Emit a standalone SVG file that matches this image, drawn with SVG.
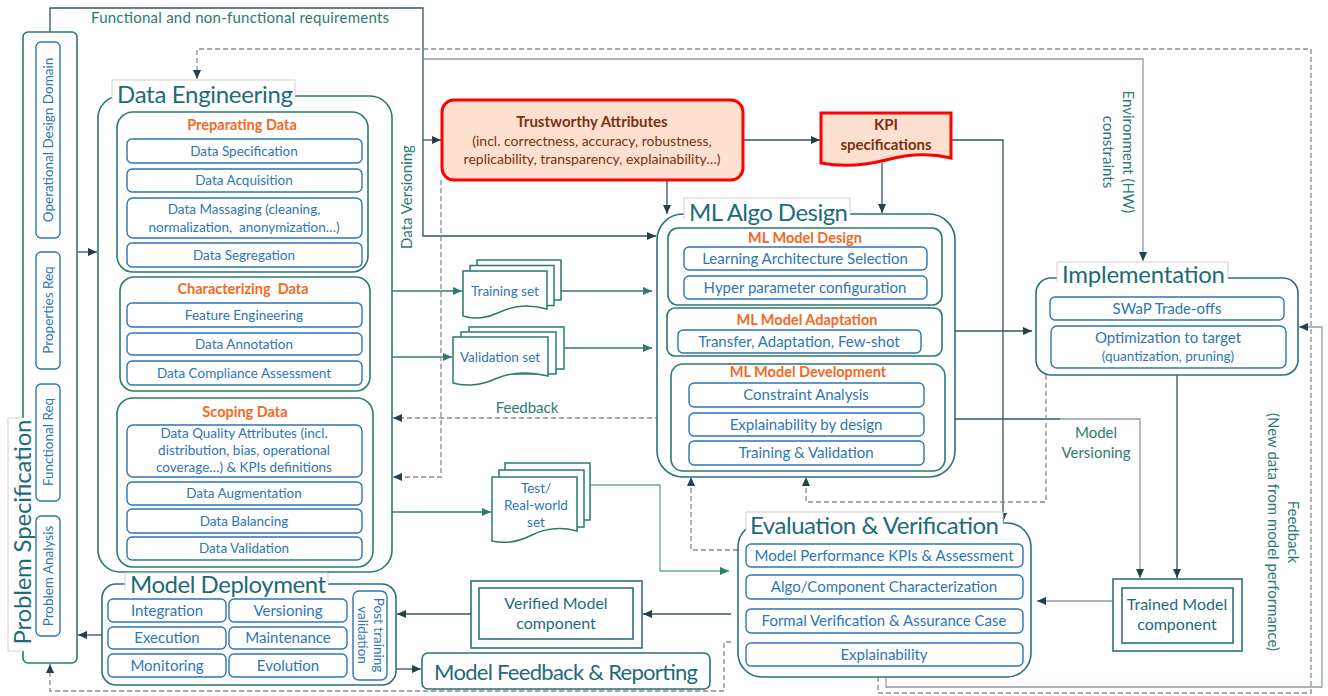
<svg xmlns="http://www.w3.org/2000/svg" width="1328" height="696" viewBox="0 0 1328 696">
<style>
text{font-family:Lato,"Liberation Sans",sans-serif}
.box{fill:#fff;stroke:#2b7a6f;stroke-width:1.6}
.boxb{fill:#fff;stroke:#2d6f7d;stroke-width:1.6}
.item{fill:#fff;stroke:#2e75b6;stroke-width:1.4}
.it{fill:#2e75b6;font-size:13.5px;text-anchor:middle}
.it2{fill:#2e75b6;font-size:15px;text-anchor:middle}
.hd{font-weight:bold;fill:#f5681e;font-size:14.5px;text-anchor:middle}
.title{fill:#1e6b78;font-size:24px}
.lab{fill:#2b7a6f;font-size:15px}
.lbl{fill:#fff;stroke:none}
.lblo{fill:none;stroke:#cfcfcf;stroke-width:1}
.c{fill:none;stroke:#37535e;stroke-width:1.3}
.cg{stroke:#2e7d6e}
.cl{stroke:#6fa6a0}
.cgr{stroke:#8d9fa3}
.d{stroke:#8a8a8a;stroke-dasharray:5 3}
.doc{fill:#fff;stroke:#2b7a6f;stroke-width:1.5}
.red{fill:#fde0cf;stroke:#ff0000;stroke-width:3}
.br{fill:#7b3010;text-anchor:middle}
.tm{fill:#1e6b78;font-size:16px;text-anchor:middle}
</style>
<defs>
<marker id="a" viewBox="0 0 10 10" refX="10" refY="5" markerWidth="9" markerHeight="9" markerUnits="userSpaceOnUse" orient="auto"><path d="M0,0.5 L10,5 L0,9.5 Z" fill="#24404a"/></marker>
<marker id="ag" viewBox="0 0 10 10" refX="10" refY="5" markerWidth="9" markerHeight="9" markerUnits="userSpaceOnUse" orient="auto"><path d="M0,0.5 L10,5 L0,9.5 Z" fill="#2e7d6e"/></marker>
</defs>

<g id="connectors">
<path class="c" d="M50,32 V8 H423 V236 H656" marker-end="url(#a)"/>
<path class="c" d="M423,140 H441" marker-end="url(#a)"/>
<path class="c cgr" d="M423,59 H1143 V261" marker-end="url(#a)"/>
<path class="c" d="M77,252 H97" marker-end="url(#a)"/>
<path class="c cg" d="M392,291 H462" marker-end="url(#ag)"/>
<path class="c cg" d="M561,291 H652" marker-end="url(#ag)"/>
<path class="c cg" d="M392,357 H452" marker-end="url(#ag)"/>
<path class="c cg" d="M564,348 H652" marker-end="url(#ag)"/>
<path class="c cg" d="M392,512 H491" marker-end="url(#ag)"/>
<path class="c cl" d="M590,485 H660 V571 H729" marker-end="url(#ag)"/>
<path class="c" d="M743,140 H820" marker-end="url(#a)"/>
<path class="c" d="M667,180 V214" marker-end="url(#a)"/>
<path class="c" d="M882,163 V213" marker-end="url(#a)"/>
<path class="c" d="M951,140 H1003 V522" marker-end="url(#a)"/>
<path class="c" d="M955,331 H1032" marker-end="url(#a)"/>
<path class="c" d="M945,419 H1060" />
<path class="c cgr" d="M1060,419 H1140 V578" marker-end="url(#a)"/>
<path class="c" d="M1177,375 V578" marker-end="url(#a)"/>
<path class="c cgr" d="M1113,601 H1037" marker-end="url(#a)"/>
<path class="c" d="M731,614 H643" marker-end="url(#a)"/>
<path class="c" d="M471,614 H397" marker-end="url(#a)"/>
<path class="c" d="M102,635 H78" marker-end="url(#a)"/>
<path class="c" d="M396,669 H421" marker-end="url(#a)"/>
<path class="c cgr" d="M886,677 V687 H1322 V327 H1299" marker-end="url(#a)"/>
<path class="c d" d="M660,418 H393" marker-end="url(#a)"/>
<path class="c d" d="M441,180 V477 H393" marker-end="url(#a)"/>
<path class="c d" d="M878,677 V693 H1311 V49 H197 V79" marker-end="url(#a)"/>
<path class="c d" d="M738,550 H691 V477" marker-end="url(#a)"/>
<path class="c d" d="M1046,375 V502 H806 V477" marker-end="url(#a)"/>
<path class="c d" d="M731,642 H724 V691 H50 V664" marker-end="url(#a)"/>
<text class="lab" x="91" y="23" textLength="298">Functional and non-functional requirements</text>
<text class="lab" x="527" y="413" text-anchor="middle">Feedback</text>
<text class="lab" x="1096" y="438" text-anchor="middle">Model</text>
<text class="lab" x="1096" y="458" text-anchor="middle">Versioning</text>
<text class="lab" transform="translate(412,197) rotate(-90)" text-anchor="middle">Data Versioning</text>
<g transform="translate(1118,152) rotate(90)" class="lab" text-anchor="middle"><text x="0" y="-5">Environment (HW)</text><text x="0" y="15">constraints</text></g>
<g transform="translate(1283,532) rotate(90)" class="lab" text-anchor="middle"><text x="0" y="-5">Feedback</text><text x="0" y="15">(New data from model performance)</text></g>
</g>

<g id="problem-specification">
<rect class="box" x="23" y="32" width="54" height="631" rx="5"/>
<rect class="lbl" x="8" y="418" width="26" height="233"/>
<path class="lblo" d="M23,418 H8 V651 H23"/>
<text class="title" transform="translate(31,532) rotate(-90)" text-anchor="middle" textLength="225">Problem Specification</text>
<rect class="item" x="36" y="42" width="24" height="196" rx="5"/>
<text class="it" transform="translate(53,140) rotate(-90)">Operational Design Domain</text>
<rect class="item" x="36" y="252" width="24" height="117" rx="5"/>
<text class="it" transform="translate(53,310) rotate(-90)">Properties Req</text>
<rect class="item" x="36" y="384" width="24" height="117" rx="5"/>
<text class="it" transform="translate(53,442) rotate(-90)">Functional Req</text>
<rect class="item" x="36" y="516" width="24" height="120" rx="5"/>
<text class="it" transform="translate(53,576) rotate(-90)">Problem Analysis</text>
</g>

<g id="data-engineering">
<rect class="box" x="98" y="96" width="294" height="476" rx="22"/>
<rect class="lbl" x="112" y="80" width="183" height="22"/>
<path class="lblo" d="M112,101 V80 H295 V96"/>
<text class="title" x="117" y="103" textLength="176">Data Engineering</text>
<rect class="box" x="117" y="112" width="251" height="160" rx="16"/>
<text class="hd" x="242" y="130">Preparating Data</text>
<rect class="item" x="127" y="139" width="235" height="24" rx="5"/>
<text class="it" x="244" y="156">Data Specification</text>
<rect class="item" x="127" y="169" width="235" height="23" rx="5"/>
<text class="it" x="244" y="185">Data Acquisition</text>
<rect class="item" x="127" y="198" width="235" height="40" rx="6"/>
<text class="it" x="244" y="214">Data Massaging (cleaning,</text>
<text class="it" x="244" y="232" style="white-space:pre">normalization,  anonymization…)</text>
<rect class="item" x="127" y="243" width="235" height="24" rx="5"/>
<text class="it" x="244" y="260">Data Segregation</text>
<rect class="box" x="120" y="277" width="250" height="114" rx="14"/>
<text class="hd" x="243" y="294" style="white-space:pre">Characterizing  Data</text>
<rect class="item" x="127" y="303" width="235" height="24" rx="5"/>
<text class="it" x="244" y="320">Feature Engineering</text>
<rect class="item" x="127" y="333" width="235" height="22" rx="5"/>
<text class="it" x="244" y="349">Data Annotation</text>
<rect class="item" x="127" y="361" width="235" height="24" rx="5"/>
<text class="it" x="244" y="378">Data Compliance Assessment</text>
<rect class="box" x="117" y="398" width="256" height="169" rx="16"/>
<text class="hd" x="245" y="417">Scoping Data</text>
<rect class="item" x="127" y="425" width="235" height="52" rx="6"/>
<text class="it" x="244" y="438">Data Quality Attributes (incl.</text>
<text class="it" x="244" y="455">distribution, bias, operational</text>
<text class="it" x="244" y="472">coverage…) &amp; KPIs definitions</text>
<rect class="item" x="127" y="482" width="235" height="23" rx="5"/>
<text class="it" x="244" y="498">Data Augmentation</text>
<rect class="item" x="127" y="509" width="235" height="24" rx="5"/>
<text class="it" x="244" y="526">Data Balancing</text>
<rect class="item" x="127" y="537" width="235" height="23" rx="5"/>
<text class="it" x="244" y="553">Data Validation</text>
</g>

<g id="training-set">
<rect class="doc" x="477" y="260" width="84" height="40"/>
<rect class="doc" x="470" y="265.5" width="84" height="40"/>
<path class="doc" d="M463,271 H547 V309 C528,304 512,306 500,312 C488,318 474,320 463,316 Z"/>
<text class="it" x="505" y="296">Training set</text>
</g>
<g id="validation-set">
<rect class="doc" x="469" y="327" width="95" height="42"/>
<rect class="doc" x="461" y="332" width="95" height="42"/>
<path class="doc" d="M453,337 H548 V376 C527,371 508,373 495,379 C482,385 466,387 453,383 Z"/>
<text class="it" x="500" y="362">Validation set</text>
</g>
<g id="test-set">
<rect class="doc" x="505" y="463" width="85" height="57"/>
<rect class="doc" x="499" y="470" width="85" height="57"/>
<path class="doc" d="M492,477 H577 V531 C558,526 544,529 532,535 C520,541 505,544 492,541 Z"/>
<text class="it" x="536" y="493">Test/</text>
<text class="it" x="536" y="510">Real-world</text>
<text class="it" x="536" y="527">set</text>
</g>

<g id="trustworthy-attributes">
<rect class="red" x="442" y="100" width="301" height="80" rx="12"/>
<text class="br" x="592" y="127" font-size="15" font-weight="bold">Trustworthy Attributes</text>
<text class="br" x="592" y="146" font-size="14">(incl. correctness, accuracy, robustness,</text>
<text class="br" x="592" y="164" font-size="14">replicability, transparency, explainability…)</text>
</g>

<g id="kpi-specifications">
<path class="red" d="M821,113 H951 V158 C930,153 908,154 886,160 C862,166 842,167 821,163 Z"/>
<text class="br" x="886" y="130" font-size="15" font-weight="bold">KPI</text>
<text class="br" x="886" y="150" font-size="15" font-weight="bold">specifications</text>
</g>

<g id="ml-algo-design">
<rect class="boxb" x="657" y="214" width="298" height="263" rx="26"/>
<rect class="lbl" x="684" y="198" width="166" height="22"/>
<path class="lblo" d="M684,219 V198 H850 V214"/>
<text class="title" x="689" y="221" textLength="159">ML Algo Design</text>
<rect class="box" x="668" y="228" width="274" height="77" rx="10"/>
<text class="hd" x="805" y="243">ML Model Design</text>
<rect class="item" x="684" y="247" width="243" height="23" rx="5"/>
<text class="it2" x="805" y="264">Learning Architecture Selection</text>
<rect class="item" x="684" y="276" width="243" height="23" rx="5"/>
<text class="it2" x="805" y="293">Hyper parameter configuration</text>
<rect class="box" x="667" y="308" width="275" height="48" rx="8"/>
<text class="hd" x="807" y="325">ML Model Adaptation</text>
<rect class="item" x="678" y="330" width="243" height="23" rx="5"/>
<text class="it2" x="799" y="347">Transfer, Adaptation, Few-shot</text>
<rect class="box" x="671" y="364" width="274" height="107" rx="12"/>
<text class="hd" x="808" y="377">ML Model Development</text>
<rect class="item" x="689" y="383" width="235" height="24" rx="5"/>
<text class="it2" x="806" y="400">Constraint Analysis</text>
<rect class="item" x="689" y="413" width="235" height="23" rx="5"/>
<text class="it2" x="806" y="430">Explainability by design</text>
<rect class="item" x="689" y="441" width="235" height="24" rx="5"/>
<text class="it2" x="806" y="458">Training &amp; Validation</text>
</g>

<g id="implementation">
<rect class="boxb" x="1036" y="278" width="262" height="97" rx="15"/>
<rect class="lbl" x="1057" y="262" width="171" height="21"/>
<path class="lblo" d="M1057,282 V262 H1228 V278"/>
<text class="title" x="1062" y="283" textLength="163">Implementation</text>
<rect class="item" x="1050" y="297" width="234" height="23" rx="5"/>
<text class="it2" x="1167" y="314">SWaP Trade-offs</text>
<rect class="item" x="1051" y="326" width="235" height="42" rx="6"/>
<text class="it2" x="1168" y="343">Optimization to target</text>
<text class="it" x="1168" y="361" font-size="12">(quantization, pruning)</text>
</g>

<g id="evaluation-verification">
<rect class="boxb" x="738" y="523" width="293" height="154" rx="24"/>
<rect class="lbl" x="746" y="512" width="257" height="22"/>
<path class="lblo" d="M746,532 V512 H1003 V523"/>
<text class="title" x="750" y="534" textLength="249">Evaluation &amp; Verification</text>
<rect class="item" x="746" y="544" width="277" height="23" rx="5"/>
<text class="it2" x="884" y="561">Model Performance KPIs &amp; Assessment</text>
<rect class="item" x="746" y="575" width="277" height="24" rx="5"/>
<text class="it2" x="884" y="592">Algo/Component Characterization</text>
<rect class="item" x="746" y="609" width="277" height="24" rx="5"/>
<text class="it2" x="884" y="626">Formal Verification &amp; Assurance Case</text>
<rect class="item" x="746" y="643" width="277" height="23" rx="5"/>
<text class="it2" x="884" y="660">Explainability</text>
</g>

<g id="trained-model-component">
<rect fill="#fff" stroke="#2d6f7d" stroke-width="1.6" x="1113" y="579" width="129" height="72"/>
<rect fill="#fff" stroke="#2d6f7d" stroke-width="1.6" x="1122" y="588" width="111" height="55"/>
<text class="tm" x="1177" y="610">Trained Model</text>
<text class="tm" x="1177" y="630">component</text>
</g>

<g id="verified-model-component">
<rect fill="#fff" stroke="#2d6f7d" stroke-width="1.6" x="471" y="581" width="171" height="67"/>
<rect fill="#fff" stroke="#2d6f7d" stroke-width="1.6" x="479" y="588" width="154" height="51"/>
<text class="tm" x="556" y="609">Verified Model</text>
<text class="tm" x="556" y="629">component</text>
</g>

<g id="model-deployment">
<rect class="boxb" x="102" y="584" width="294" height="101" rx="14"/>
<rect class="lbl" x="125" y="573" width="203" height="20"/>
<path class="lblo" d="M125,590 V573 H328 V584"/>
<text class="title" x="130" y="593" textLength="196">Model Deployment</text>
<rect class="item" x="108" y="599" width="118" height="23" rx="5"/>
<text class="it2" x="167" y="616">Integration</text>
<rect class="item" x="229" y="599" width="118" height="23" rx="5"/>
<text class="it2" x="288" y="616">Versioning</text>
<rect class="item" x="108" y="627" width="118" height="22" rx="5"/>
<text class="it2" x="167" y="643">Execution</text>
<rect class="item" x="229" y="627" width="118" height="22" rx="5"/>
<text class="it2" x="288" y="643">Maintenance</text>
<rect class="item" x="108" y="654" width="118" height="23" rx="5"/>
<text class="it2" x="167" y="671">Monitoring</text>
<rect class="item" x="229" y="654" width="118" height="23" rx="5"/>
<text class="it2" x="288" y="671">Evolution</text>
<rect class="item" x="353" y="591" width="34" height="89" rx="6"/>
<g transform="translate(370,635) rotate(90)"><text class="it" x="0" y="-4">Post training</text><text class="it" x="0" y="12">validation</text></g>
</g>

<g id="model-feedback-reporting">
<rect fill="#fff" stroke="#2d6f7d" stroke-width="1.6" x="422" y="653" width="288" height="36" rx="6"/>
<text fill="#1e6b78" font-size="22" x="566" y="680" text-anchor="middle" textLength="264">Model Feedback &amp; Reporting</text>
</g>
</svg>
